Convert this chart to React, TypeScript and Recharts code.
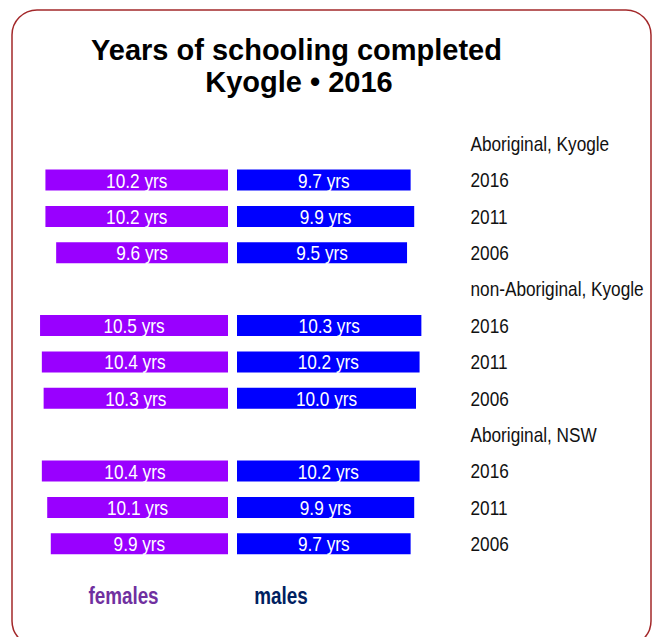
import React from "react";
import { BarChart, Bar, XAxis, YAxis, LabelList } from "recharts";

const rowLabels = [
  "Aboriginal, Kyogle", "2016", "2011", "2006",
  "non-Aboriginal, Kyogle", "2016", "2011", "2006",
  "Aboriginal, NSW", "2016", "2011", "2006",
];
const females: (number | null)[] = [null, 10.2, 10.2, 9.6, null, 10.5, 10.4, 10.3, null, 10.4, 10.1, 9.9];
const males: (number | null)[] = [null, 9.7, 9.9, 9.5, null, 10.3, 10.2, 10.0, null, 10.2, 9.9, 9.7];
const titleLines = ["Years of schooling completed", "Kyogle \u2022 2016"];
const legendLabels = ["females", "males"];

const data = rowLabels.map((label, i) => ({
  id: String(i),
  label,
  females: females[i],
  males: males[i],
}));

const SANS = "'Liberation Sans', Arial, sans-serif";
const NARROW_SCALE = 0.82;
const FEMALE = "#9900ff";
const MALE = "#0000ff";
const W = 657;
const H = 637;
const TOP = 125.2;
const BOTTOM = H - (TOP + 12 * 36.375);
const SCALE_W = 12 * 17.9;

const fmt = (v: any) => (v === null || v === undefined || v === "" ? "" : `${Number(v).toFixed(1)} yrs`);

function NarrowText({ x, y, anchor = "start", size, weight = "normal", fill, children }: any) {
  return (
    <text
      transform={`translate(${x},${y}) scale(${NARROW_SCALE},1)`}
      x={0}
      y={0}
      textAnchor={anchor}
      fontFamily={SANS}
      fontSize={size}
      fontWeight={weight}
      fill={fill}
    >
      {children}
    </text>
  );
}

const BarLabel = (props: any) => {
  const vb = props.viewBox && props.viewBox.width !== undefined ? props.viewBox : props;
  const { x, y, width, height } = vb;
  const txt = fmt(props.value);
  if (!txt || x === undefined) return null;
  const cx = Number(x) + Number(width) / 2;
  const cy = Number(y) + Number(height) / 2;
  return (
    <NarrowText x={cx} y={cy + 7.5} anchor="middle" size={21} fill="#fff">
      {txt}
    </NarrowText>
  );
};

const RowTick = (props: any) => {
  const { x, y, payload } = props;
  return (
    <NarrowText x={x} y={y + 7.5} anchor="start" size={21} fill="#111">
      {rowLabels[Number(payload.value)]}
    </NarrowText>
  );
};

export default function App() {
  return (
    <div style={{ position: "absolute", left: 0, top: 0, width: W, height: H, background: "#fff" }}>
      <svg width={W} height={H} style={{ position: "absolute", left: 0, top: 0 }}>
        <rect x={12} y={10} width={639} height={636} rx={25} ry={25} fill="none" stroke="#a3282a" strokeWidth={1.5} />
        <text x={296.5} y={60} textAnchor="middle" fontFamily={SANS} fontWeight="bold" fontSize={29} fill="#000">
          {titleLines[0]}
        </text>
        <text x={299} y={92} textAnchor="middle" fontFamily={SANS} fontWeight="bold" fontSize={29} fill="#000">
          {titleLines[1]}
        </text>
      </svg>

      <div style={{ position: "absolute", left: 0, top: 0 }}>
        <BarChart
          width={240}
          height={H}
          data={data}
          layout="vertical"
          margin={{ left: 228 - SCALE_W, right: 12, top: TOP, bottom: BOTTOM }}
        >
          <XAxis type="number" domain={[0, 12]} reversed hide />
          <YAxis type="category" dataKey="id" hide />
          <Bar dataKey="females" fill={FEMALE} barSize={21} isAnimationActive={false}>
            <LabelList dataKey="females" content={BarLabel} />
          </Bar>
        </BarChart>
      </div>

      <div style={{ position: "absolute", left: 0, top: 0 }}>
        <BarChart
          width={W}
          height={H}
          data={data}
          layout="vertical"
          margin={{ left: 237, right: W - (237 + SCALE_W) - 190, top: TOP, bottom: BOTTOM }}
        >
          <XAxis type="number" domain={[0, 12]} hide />
          <YAxis
            type="category"
            dataKey="id"
            orientation="right"
            width={190}
            axisLine={false}
            tickLine={false}
            tickSize={0}
            tickMargin={470.5 - (237 + SCALE_W)}
            interval={0}
            tick={<RowTick />}
          />
          <Bar dataKey="males" fill={MALE} barSize={21} isAnimationActive={false}>
            <LabelList dataKey="males" content={BarLabel} />
          </Bar>
        </BarChart>
      </div>

      <svg width={W} height={H} style={{ position: "absolute", left: 0, top: 0, pointerEvents: "none" }}>
        <NarrowText x={123.5} y={604} anchor="middle" size={23} weight="bold" fill="#7030a0">
          {legendLabels[0]}
        </NarrowText>
        <NarrowText x={281} y={604} anchor="middle" size={23} weight="bold" fill="#002060">
          {legendLabels[1]}
        </NarrowText>
      </svg>
    </div>
  );
}
